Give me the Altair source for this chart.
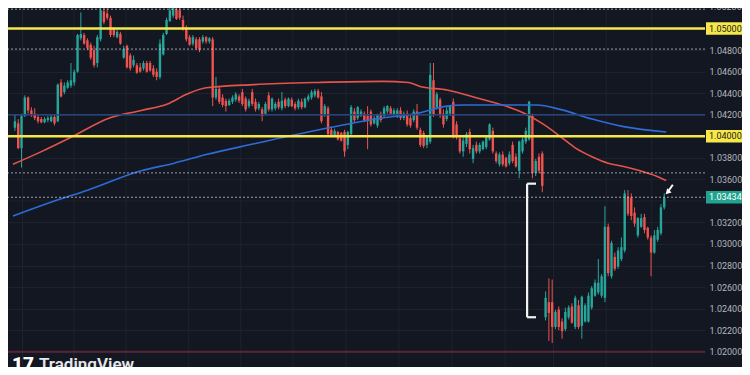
import altair as alt
import pandas as pd

# ---------------- candle data ----------------
opens = [
    1.0408, 1.0412, 1.0389, 1.0419, 1.0436, 1.0424, 1.0421, 1.0418, 1.0416, 1.0413,
    1.0415, 1.0414, 1.0418, 1.0414, 1.0450, 1.0441, 1.0445, 1.0447, 1.0450, 1.0460,
    1.0491, 1.0494, 1.0489, 1.0485, 1.0480, 1.0468, 1.0490, 1.0516, 1.0514, 1.0510,
    1.0500, 1.0492, 1.0495, 1.0473, 1.0484, 1.0475, 1.0466, 1.0466, 1.0464, 1.0463,
    1.0468,
    1.0468, 1.0463, 1.0460, 1.0455, 1.0476, 1.0495, 1.0507, 1.0512, 1.0518, 1.0517,
    1.0508, 1.0501, 1.0492, 1.0486, 1.0490, 1.0490, 1.0488, 1.0492, 1.0488, 1.0490,
    1.0436, 1.0444, 1.0436, 1.0433, 1.0429, 1.0432, 1.0434, 1.0437, 1.0441, 1.0435,
    1.0428, 1.0441, 1.0432, 1.0426, 1.0425, 1.0421, 1.0438, 1.0425, 1.0426, 1.0432,
    1.0426, 1.0434,
    1.0428, 1.0434, 1.0430, 1.0427, 1.0432, 1.0427, 1.0434, 1.0436, 1.0438, 1.0442,
    1.0437, 1.0420, 1.0426, 1.0406, 1.0401, 1.0404, 1.0403, 1.0404, 1.0392, 1.0402,
    1.0423, 1.0417, 1.0419, 1.0421, 1.0419, 1.0423, 1.0412, 1.0410, 1.0421, 1.0419,
    1.0423, 1.0426, 1.0420, 1.0419, 1.0424, 1.0417, 1.0421, 1.0417, 1.0415, 1.0423,
    1.0406, 1.0403, 1.0392, 1.0395, 1.0452, 1.0427, 1.0434, 1.0421, 1.0416, 1.0421,
    1.0432, 1.0411, 1.0398, 1.0386, 1.0393, 1.0404, 1.0379, 1.0392, 1.0386, 1.0388,
    1.0390, 1.0397, 1.0405, 1.0384, 1.0374, 1.0383, 1.0380, 1.0375, 1.0392, 1.0381,
    1.0368, 1.0386, 1.0395, 1.0397, 1.0419, 1.0366, 1.0381, 1.0384,
    1.0232, 1.0246, 1.0246, 1.0223, 1.0239, 1.0228, 1.0221, 1.0232, 1.0242, 1.0223,
    1.0243, 1.0224, 1.0228, 1.0228, 1.0241, 1.0252, 1.0255, 1.0252, 1.0250, 1.0316,
    1.0270, 1.0288, 1.0279, 1.0286, 1.0294, 1.0344, 1.0343, 1.0329, 1.0308, 1.0316,
    1.0325, 1.0315, 1.0306, 1.0292, 1.0304, 1.0310, 1.0334,
]
highs = [
    1.0420, 1.0416, 1.0421, 1.0438, 1.0437, 1.0427, 1.0426, 1.0420, 1.0418, 1.0418,
    1.0419, 1.0420, 1.0420, 1.0449, 1.0453, 1.0450, 1.0452, 1.0468, 1.0462, 1.0495,
    1.0515, 1.0496, 1.0491, 1.0487, 1.0484, 1.0494, 1.0522, 1.0522, 1.0519, 1.0512,
    1.0501, 1.0499, 1.0497, 1.0484, 1.0485, 1.0477, 1.0475, 1.0468, 1.0468, 1.0470,
    1.0470,
    1.0470, 1.0466, 1.0463, 1.0490, 1.0496, 1.0510, 1.0522, 1.0524, 1.0524, 1.0522,
    1.0512, 1.0503, 1.0494, 1.0494, 1.0492, 1.0492, 1.0494, 1.0493, 1.0492, 1.0492,
    1.0455, 1.0446, 1.0439, 1.0435, 1.0435, 1.0438, 1.0441, 1.0439, 1.0444, 1.0437,
    1.0435, 1.0444, 1.0435, 1.0432, 1.0427, 1.0432, 1.0441, 1.0436, 1.0432, 1.0435,
    1.0441, 1.0436,
    1.0436, 1.0436, 1.0432, 1.0435, 1.0435, 1.0436, 1.0439, 1.0443, 1.0444, 1.0444,
    1.0441, 1.0430, 1.0428, 1.0409, 1.0407, 1.0405, 1.0404, 1.0406, 1.0405, 1.0429,
    1.0426, 1.0428, 1.0425, 1.0423, 1.0428, 1.0425, 1.0419, 1.0421, 1.0423, 1.0428,
    1.0429, 1.0428, 1.0426, 1.0426, 1.0427, 1.0423, 1.0424, 1.0420, 1.0425, 1.0430,
    1.0408, 1.0405, 1.0399, 1.0468, 1.0468, 1.0441, 1.0436, 1.0425, 1.0427, 1.0429,
    1.0435, 1.0414, 1.0401, 1.0399, 1.0404, 1.0407, 1.0392, 1.0395, 1.0394, 1.0396,
    1.0401, 1.0412, 1.0408, 1.0386, 1.0385, 1.0386, 1.0381, 1.0386, 1.0395, 1.0384,
    1.0396, 1.0399, 1.0408, 1.0433, 1.0421, 1.0379, 1.0384, 1.0386,
    1.0256, 1.0268, 1.0267, 1.0239, 1.0242, 1.0231, 1.0241, 1.0243, 1.0245, 1.0252,
    1.0248, 1.0252, 1.0245, 1.0255, 1.0261, 1.0267, 1.0286, 1.0272, 1.0335, 1.0319,
    1.0303, 1.0292, 1.0297, 1.0306, 1.0350, 1.0350, 1.0347, 1.0334, 1.0325, 1.0328,
    1.0328, 1.0316, 1.0308, 1.0313, 1.0316, 1.0337, 1.0347,
]
lows = [
    1.0405, 1.0388, 1.0371, 1.0418, 1.0421, 1.0418, 1.0415, 1.0412, 1.0412, 1.0412,
    1.0413, 1.0413, 1.0410, 1.0413, 1.0436, 1.0439, 1.0444, 1.0445, 1.0447, 1.0459,
    1.0489, 1.0485, 1.0480, 1.0471, 1.0464, 1.0464, 1.0488, 1.0504, 1.0508, 1.0492,
    1.0492, 1.0491, 1.0485, 1.0472, 1.0463, 1.0461, 1.0464, 1.0458, 1.0459, 1.0461,
    1.0459,
    1.0460, 1.0455, 1.0452, 1.0453, 1.0475, 1.0494, 1.0506, 1.0510, 1.0508, 1.0508,
    1.0498, 1.0488, 1.0484, 1.0484, 1.0480, 1.0478, 1.0486, 1.0486, 1.0486, 1.0428,
    1.0434, 1.0430, 1.0427, 1.0423, 1.0428, 1.0430, 1.0432, 1.0431, 1.0428, 1.0423,
    1.0426, 1.0428, 1.0423, 1.0424, 1.0414, 1.0420, 1.0423, 1.0423, 1.0424, 1.0425,
    1.0424, 1.0426,
    1.0427, 1.0427, 1.0424, 1.0425, 1.0425, 1.0426, 1.0432, 1.0434, 1.0436, 1.0435,
    1.0412, 1.0418, 1.0400, 1.0399, 1.0399, 1.0396, 1.0395, 1.0381, 1.0388, 1.0400,
    1.0413, 1.0415, 1.0418, 1.0413, 1.0388, 1.0409, 1.0411, 1.0408, 1.0413, 1.0417,
    1.0421, 1.0420, 1.0419, 1.0417, 1.0415, 1.0415, 1.0409, 1.0408, 1.0413, 1.0406,
    1.0390, 1.0389, 1.0389, 1.0393, 1.0418, 1.0425, 1.0417, 1.0408, 1.0414, 1.0419,
    1.0398, 1.0397, 1.0384, 1.0381, 1.0390, 1.0384, 1.0375, 1.0384, 1.0384, 1.0387,
    1.0388, 1.0396, 1.0384, 1.0375, 1.0372, 1.0372, 1.0371, 1.0373, 1.0375, 1.0371,
    1.0361, 1.0384, 1.0393, 1.0396, 1.0361, 1.0363, 1.0366, 1.0348,
    1.0229, 1.0210, 1.0208, 1.0221, 1.0220, 1.0212, 1.0219, 1.0230, 1.0226, 1.0221,
    1.0221, 1.0212, 1.0227, 1.0227, 1.0239, 1.0251, 1.0253, 1.0250, 1.0246, 1.0270,
    1.0268, 1.0275, 1.0277, 1.0284, 1.0292, 1.0326, 1.0322, 1.0316, 1.0306, 1.0315,
    1.0310, 1.0304, 1.0270, 1.0291, 1.0302, 1.0308, 1.0332,
]
closes = [
    1.0414, 1.0389, 1.0419, 1.0436, 1.0424, 1.0420, 1.0417, 1.0414, 1.0413, 1.0416,
    1.0417, 1.0418, 1.0412, 1.0448, 1.0437, 1.0447, 1.0450, 1.0452, 1.0460, 1.0494,
    1.0495, 1.0486, 1.0482, 1.0473, 1.0466, 1.0492, 1.0517, 1.0506, 1.0510, 1.0494,
    1.0494, 1.0497, 1.0486, 1.0481, 1.0464, 1.0463, 1.0471, 1.0459, 1.0460, 1.0468,
    1.0460,
    1.0461, 1.0457, 1.0455, 1.0486, 1.0494, 1.0508, 1.0517, 1.0519, 1.0509, 1.0510,
    1.0500, 1.0490, 1.0485, 1.0492, 1.0482, 1.0480, 1.0492, 1.0488, 1.0491, 1.0436,
    1.0444, 1.0432, 1.0429, 1.0428, 1.0433, 1.0436, 1.0439, 1.0433, 1.0430, 1.0425,
    1.0433, 1.0430, 1.0425, 1.0430, 1.0419, 1.0430, 1.0425, 1.0435, 1.0430, 1.0427,
    1.0433, 1.0428,
    1.0435, 1.0428, 1.0426, 1.0433, 1.0427, 1.0435, 1.0437, 1.0441, 1.0442, 1.0436,
    1.0414, 1.0428, 1.0402, 1.0401, 1.0405, 1.0397, 1.0396, 1.0386, 1.0404, 1.0427,
    1.0415, 1.0427, 1.0423, 1.0415, 1.0414, 1.0411, 1.0417, 1.0420, 1.0415, 1.0426,
    1.0428, 1.0421, 1.0424, 1.0424, 1.0417, 1.0421, 1.0411, 1.0410, 1.0423, 1.0408,
    1.0392, 1.0391, 1.0400, 1.0457, 1.0420, 1.0439, 1.0420, 1.0411, 1.0424, 1.0428,
    1.0401, 1.0399, 1.0386, 1.0396, 1.0402, 1.0388, 1.0389, 1.0386, 1.0392, 1.0395,
    1.0399, 1.0411, 1.0386, 1.0377, 1.0383, 1.0374, 1.0372, 1.0383, 1.0377, 1.0372,
    1.0395, 1.0397, 1.0405, 1.0432, 1.0366, 1.0377, 1.0368, 1.0354,
    1.0250, 1.0236, 1.0223, 1.0237, 1.0223, 1.0219, 1.0237, 1.0241, 1.0227, 1.0250,
    1.0223, 1.0251, 1.0243, 1.0252, 1.0259, 1.0264, 1.0264, 1.0270, 1.0316, 1.0273,
    1.0301, 1.0277, 1.0294, 1.0297, 1.0347, 1.0328, 1.0326, 1.0319, 1.0324, 1.0324,
    1.0313, 1.0306, 1.0292, 1.0308, 1.0313, 1.0334, 1.0343,
]

# moving averages (bar index, price)
red_ma_idx = [-0.6, 8.2, 17.0, 28.7, 38.3, 46.3, 52.1, 58.0, 72.6, 92.2, 111.5, 119.4, 123.2,
              131.1, 140.8, 150.8, 155.4, 160.4, 165.4, 170.1, 175.1, 180.0, 184.7, 189.7, 194.7, 197.6]
red_ma_val = [1.0374, 1.0386, 1.0399, 1.0417, 1.0424, 1.0430, 1.0439, 1.0445, 1.0448, 1.0450, 1.0451,
              1.0450, 1.0446, 1.0443, 1.0435, 1.0426, 1.0420, 1.0411, 1.0400, 1.0389, 1.0381, 1.0375,
              1.0372, 1.0368, 1.0363, 1.0359]
blue_ma_idx = [-0.6, 11.1, 22.0, 38.3, 48.3, 58.0, 72.6, 92.2, 111.5, 121.5, 131.1, 136.1, 145.8,
               158.4, 165.4, 175.1, 184.7, 197.6]
blue_ma_val = [1.0326, 1.0339, 1.0350, 1.0368, 1.0375, 1.0383, 1.0393, 1.0406, 1.0417, 1.0421, 1.0428,
               1.0429, 1.0429, 1.0429, 1.0425, 1.0416, 1.0409, 1.0404]

# horizontal levels
yellow_levels = [1.05000, 1.04000]
blue_level = [1.0420]
dotted_levels = [1.0518, 1.0481, 1.0366, 1.03434]
floor_level = [1.02000]
current_price = 1.03434
axis_ticks = [1.020, 1.022, 1.024, 1.026, 1.028, 1.030, 1.032, 1.036, 1.038,
              1.040, 1.042, 1.044, 1.046, 1.048, 1.050]
hidden_grid = [1.034]          # grid line whose label sits under the price box
top_cut_tick = [1.052]

# vertical time grid (bar index)
vgrid_idx = [2.3, 17.9, 33.7, 52.7, 68.5, 84.3, 100.4, 116.5, 132.6, 148.7, 163.4, 179.4, 193.2]

# bracket (gap measure) and arrow
bracket_x = [155.4, 155.4, 155.4]
bracket_x2 = [155.4, 158.1, 158.1]
bracket_y = [1.0356, 1.0356, 1.0232]
bracket_y2 = [1.0232, 1.0356, 1.0232]
arrow_tail = (199.6, 1.0355)
arrow_tip = (198.0, 1.0348)

# ---------------- build ----------------
W, H, AX = 697, 359, 37
BG = "#131722"
GRID = "#1e222d"
UP, DOWN = "#26a69a", "#ef5350"
LABEL = "#b2b5be"
FONT = "Roboto"
FS = 9

candles = pd.DataFrame({"i": list(range(len(opens))), "open": opens, "high": highs,
                        "low": lows, "close": closes})
candles["dir"] = ["up" if c >= o else "down" for o, c in zip(opens, closes)]

xs = alt.Scale(domain=[-0.585, 207.85], nice=False, zero=False)
ys = alt.Scale(domain=[1.01858, 1.05191], nice=False, zero=False)
col = alt.Color("dir:N", scale=alt.Scale(domain=["up", "down"], range=[UP, DOWN]), legend=None)

yaxis = alt.Axis(orient="right", values=axis_ticks, format=".5f", labelColor=LABEL,
                 labelFontSize=FS, labelFont=FONT, tickSize=0, domain=False, grid=True,
                 gridColor=GRID, gridWidth=1, labelPadding=4, minExtent=AX, maxExtent=AX,
                 title="", zindex=0)


def X(f):
    return alt.X(f, type="quantitative", scale=xs, axis=None)


def Y(f):
    # every layer shares the same (merged) right-hand price axis
    return alt.Y(f, type="quantitative", scale=ys, axis=yaxis)


vgrid = alt.Chart(pd.DataFrame({"i": vgrid_idx})).mark_rule(color=GRID, strokeWidth=1).encode(x=X("i"))
hgrid = alt.Chart(pd.DataFrame({"p": hidden_grid})).mark_rule(color=GRID, strokeWidth=1).encode(y=Y("p"))

wicks = alt.Chart(candles).mark_rule(strokeWidth=1).encode(
    x=X("i"), y=Y("low"), y2="high", color=col)
bodies = alt.Chart(candles).mark_bar(size=2.4).encode(
    x=X("i"), y=Y("open"), y2="close", color=col)

red_ma = alt.Chart(pd.DataFrame({"i": red_ma_idx, "v": red_ma_val})).mark_line(
    color="#e5534b", strokeWidth=1.6, interpolate="monotone").encode(x=X("i"), y=Y("v"))
blue_ma = alt.Chart(pd.DataFrame({"i": blue_ma_idx, "v": blue_ma_val})).mark_line(
    color="#2f6bd8", strokeWidth=1.6, interpolate="monotone").encode(x=X("i"), y=Y("v"))

blue_line = alt.Chart(pd.DataFrame({"p": blue_level})).mark_rule(
    color="#26457f", strokeWidth=1.3).encode(y=Y("p"))
dotted = alt.Chart(pd.DataFrame({"p": dotted_levels})).mark_rule(
    color="#c9cbd1", strokeWidth=1, strokeDash=[2, 2], opacity=0.75).encode(y=Y("p"))
floor = alt.Chart(pd.DataFrame({"p": floor_level})).mark_rule(
    color="#5a2336", strokeWidth=2).encode(y=Y("p"))
yellow = alt.Chart(pd.DataFrame({"p": yellow_levels})).mark_rule(
    color="#f6e84a", strokeWidth=2.4).encode(y=Y("p"))

bracket = alt.Chart(pd.DataFrame({"x": bracket_x, "x2": bracket_x2, "y": bracket_y, "y2": bracket_y2})).mark_rule(
    color="#f2f2f2", strokeWidth=2.2).encode(x=X("x"), x2="x2", y=Y("y"), y2="y2")

arrow_df = pd.DataFrame({"x": [arrow_tail[0]], "x2": [arrow_tip[0]], "y": [arrow_tail[1]], "y2": [arrow_tip[1]]})
arrow_shaft = alt.Chart(arrow_df).mark_rule(color="#ffffff", strokeWidth=2).encode(
    x=X("x"), x2="x2", y=Y("y"), y2="y2")
arrow_head = alt.Chart(pd.DataFrame({"x": [arrow_tip[0]], "y": [arrow_tip[1]]})).mark_point(
    shape="triangle-up", angle=225, filled=True, size=38, color="#ffffff", opacity=1).encode(
    x=X("x"), y=Y("y"))

# price boxes on the axis
yellow_box = alt.Chart(pd.DataFrame({"p": yellow_levels})).mark_rule(
    color="#f6e84a", strokeWidth=12.5, strokeCap="butt").encode(
    x=alt.value(W + 1), x2=alt.value(W + AX), y=Y("p"))
yellow_box_text = alt.Chart(pd.DataFrame({"p": yellow_levels})).mark_text(
    align="left", baseline="middle", fontSize=FS, font=FONT, color="#1b1b1b").encode(
    x=alt.value(W + 4), y=Y("p"), text=alt.Text("p:Q", format=".5f"))
cur_box = alt.Chart(pd.DataFrame({"p": [current_price]})).mark_rule(
    color="#22a38f", strokeWidth=12.5, strokeCap="butt").encode(
    x=alt.value(W + 1), x2=alt.value(W + AX), y=Y("p"))
cur_text = alt.Chart(pd.DataFrame({"p": [current_price]})).mark_text(
    align="left", baseline="middle", fontSize=FS, font=FONT, color="#ffffff").encode(
    x=alt.value(W + 4), y=Y("p"), text=alt.Text("p:Q", format=".5f"))
top_tick = alt.Chart(pd.DataFrame({"p": top_cut_tick})).mark_text(
    align="left", baseline="middle", fontSize=FS, font=FONT, color=LABEL).encode(
    x=alt.value(W + 4), y=Y("p"), text=alt.Text("p:Q", format=".5f"))

logo = alt.Chart(pd.DataFrame({"t": ["17"]})).mark_text(
    align="left", baseline="alphabetic", fontSize=19, fontWeight=900, font="Roboto",
    color="#ffffff").encode(x=alt.value(4), y=alt.value(362), text="t:N")
brand = alt.Chart(pd.DataFrame({"t": ["TradingView"]})).mark_text(
    align="left", baseline="alphabetic", fontSize=17, fontWeight=600, font="Roboto",
    color="#e6e7ea").encode(x=alt.value(31), y=alt.value(362), text="t:N")

chart = alt.layer(
    vgrid, hgrid, wicks, bodies, red_ma, blue_ma, blue_line, dotted, floor, yellow,
    bracket, arrow_shaft, arrow_head,
    yellow_box, yellow_box_text, cur_box, cur_text, top_tick, logo, brand,
).properties(
    width=W, height=H,
    autosize=alt.AutoSizeParams(type="none"),
    padding={"left": 0, "top": 0, "right": AX, "bottom": 0},
    background=BG,
).configure_view(stroke=None)

chart.save("out.html", embed_options={"renderer": "svg", "actions": False})
